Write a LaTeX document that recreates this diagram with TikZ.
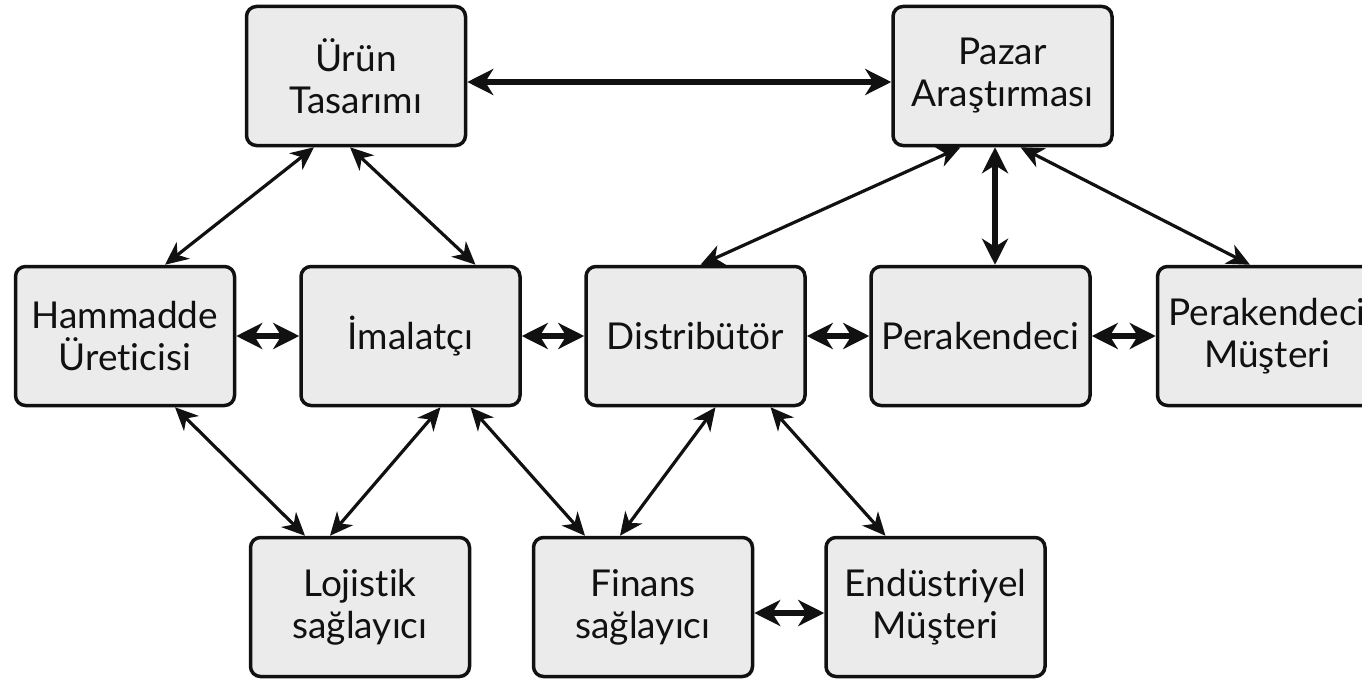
\documentclass[tikz,border=0pt]{standalone}
\usepackage{fontspec}
\setmainfont{Lato}[Ligatures=NoCommon]
\usetikzlibrary{arrows.meta}
\definecolor{boxfill}{HTML}{EBEBEB}
\definecolor{ink}{HTML}{111111}
\tikzset{
  box/.style={draw=ink, line width=3.5pt, fill=boxfill, rounded corners=10pt,
    minimum width=219pt, minimum height=139pt, inner sep=0pt, align=center,
    font=\fontsize{37}{42}\selectfont, text=ink},
  thin/.style={draw=ink, line width=3.2pt,
    {Stealth[length=23pt,width=21pt,inset=7pt]}-{Stealth[length=23pt,width=21pt,inset=7pt]}},
  thick/.style={draw=ink, line width=6.5pt,
    {Stealth[length=26pt,width=26pt,inset=8pt]}-{Stealth[length=26pt,width=26pt,inset=8pt]}}
}
\begin{document}
\begin{tikzpicture}[x=1pt,y=-1pt]
\useasboundingbox (0,0) rectangle (1362,685);
\clip (0,0) rectangle (1362,685);
\node[box] (uru) at (356,76) {Ürün\\Tasarımı};
\node[box] (paz) at (1002.5,76) {Pazar\\Araştırması};
\node[box] (ham) at (125,336) {Hammadde\\Üreticisi};
\node[box] (ima) at (410.5,336) {İmalatçı};
\node[box] (dis) at (695.5,336) {Distribütör};
\node[box] (per) at (980.5,336) {Perakendeci};
\node[box] (pmu) at (1267,336) {Perakendeci\\Müşteri};
\node[box] (loj) at (360,607) {Lojistik\\sağlayıcı};
\node[box] (fin) at (643,607) {Finans\\sağlayıcı};
\node[box] (end) at (935.5,607) {Endüstriyel\\Müşteri};

\draw[thick] ([yshift=-6pt]uru.east) -- ([yshift=-6pt]paz.west);
\draw[thin] ([xshift=-42pt]uru.south) -- ([xshift=40pt]ham.north);
\draw[thin] ([xshift=-6pt]uru.south) -- ([xshift=65pt]ima.north);
\draw[thin] ([xshift=-42pt]paz.south) -- ([xshift=5pt]dis.north);
\draw[thick] ([xshift=-7.5pt]paz.south) -- ([xshift=14.5pt]per.north);
\draw[thin] ([xshift=18pt]paz.south) -- ([xshift=-17pt]pmu.north);

\draw[thick] (ham.east) -- (ima.west);
\draw[thick] (ima.east) -- (dis.west);
\draw[thick] (dis.east) -- (per.west);
\draw[thick] (per.east) -- (pmu.west);

\draw[thin] ([xshift=50pt]ham.south) -- ([xshift=-55pt]loj.north);
\draw[thin] ([xshift=30pt]ima.south) -- ([xshift=-30pt]loj.north);
\draw[thin] ([xshift=60pt]ima.south) -- ([xshift=-58pt]fin.north);
\draw[thin] ([xshift=20pt]dis.south) -- ([xshift=-23pt]fin.north);
\draw[thin] ([xshift=75pt]dis.south) -- ([xshift=-50pt]end.north);
\draw[thick] ([yshift=-6pt]fin.east) -- ([yshift=-6pt]end.west);
\end{tikzpicture}
\end{document}
